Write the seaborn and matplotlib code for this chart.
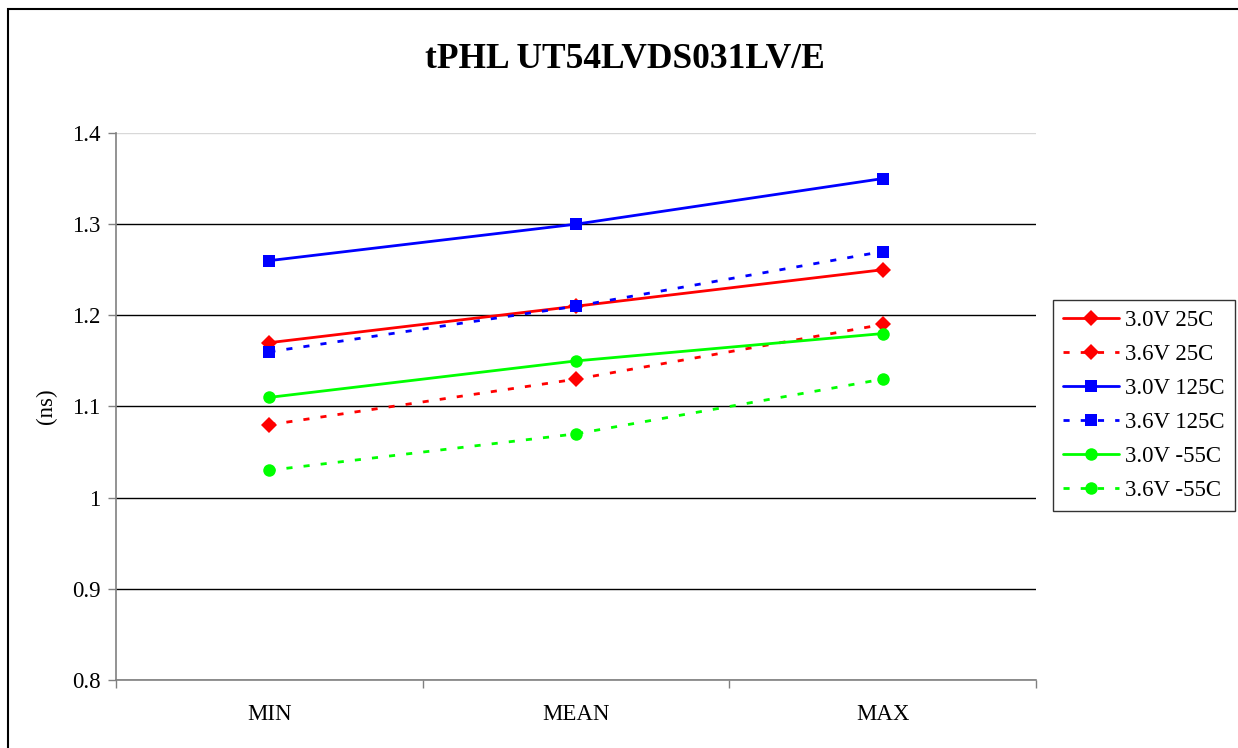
import matplotlib
matplotlib.use("Agg")
import matplotlib.pyplot as plt
import matplotlib.patches as mpatches
from matplotlib.ticker import FixedLocator, NullFormatter
import seaborn as sns
import pandas as pd

categories = ["MIN", "MEAN", "MAX"]
series_names = ["3.0V 25C", "3.6V 25C", "3.0V 125C", "3.6V 125C", "3.0V -55C", "3.6V -55C"]
v30_25 = [1.17, 1.21, 1.25]
v36_25 = [1.08, 1.13, 1.19]
v30_125 = [1.26, 1.30, 1.35]
v36_125 = [1.16, 1.21, 1.27]
v30_m55 = [1.11, 1.15, 1.18]
v36_m55 = [1.03, 1.07, 1.13]
values = [v30_25, v36_25, v30_125, v36_125, v30_m55, v36_m55]
yticks = [0.8, 0.9, 1.0, 1.1, 1.2, 1.3, 1.4]
ytick_labels = ["0.8", "0.9", "1", "1.1", "1.2", "1.3", "1.4"]

colors = ["#ff0000", "#ff0000", "#0000ff", "#0000ff", "#00ff00", "#00ff00"]
markers = ["D", "D", "s", "s", "o", "o"]
msizes = [8, 8, 8.5, 8.5, 9, 9]
dashed = [False, True, False, True, False, True]

rows = []
for name, vals in zip(series_names, values):
    for c, v in zip(categories, vals):
        rows.append({"series": name, "cat": c, "ns": v})
df = pd.DataFrame(rows)

sns.set_theme(style="white")
plt.rcParams["font.family"] = ["Liberation Serif", "DejaVu Serif"]
plt.rcParams["text.color"] = "black"
plt.rcParams["axes.labelcolor"] = "black"
plt.rcParams["xtick.color"] = "black"
plt.rcParams["ytick.color"] = "black"

FS = 16.5

fig = plt.figure(figsize=(12.38, 7.48), dpi=100)
ax = fig.add_axes([116 / 1238, 1 - 680 / 748, 920 / 1238, 547 / 748])

for i, name in enumerate(series_names):
    sub = df[df["series"] == name]
    sns.lineplot(data=sub, x="cat", y="ns", ax=ax, color=colors[i], marker=markers[i],
                 markersize=msizes[i], markeredgewidth=0, linewidth=2.0,
                 label=name, sort=False)
    line = ax.lines[-1]
    if dashed[i]:
        line.set_dashes((2.2, 4.0))
    line.set_dash_capstyle("butt")

ax.set_xlim(-0.5, 2.5)
ax.set_ylim(0.8, 1.4)
ax.set_yticks(yticks)
ax.set_yticklabels(ytick_labels, fontsize=FS, color="black")
ax.set_xticks(range(len(categories)))
ax.set_xticklabels(categories, fontsize=FS, color="black")
ax.tick_params(axis="x", which="major", length=0, pad=17)
ax.xaxis.set_minor_locator(FixedLocator([-0.5, 0.5, 1.5, 2.5]))
ax.xaxis.set_minor_formatter(NullFormatter())
ax.tick_params(axis="x", which="minor", direction="out", length=6, width=1, color="#808080", bottom=True)
ax.tick_params(axis="y", direction="out", length=6, width=1, color="#808080", left=True, pad=5)
ax.set_xlabel("")
ax.set_ylabel("(ns)", fontsize=FS, labelpad=11, color="black")

ax.yaxis.grid(True, color="black", linewidth=1.0)
ax.xaxis.grid(False)
gl = ax.get_ygridlines()
gl[-1].set_color("#d8d8d8")
for s in ["top", "right"]:
    ax.spines[s].set_visible(False)
for s in ["left", "bottom"]:
    ax.spines[s].set_color("#808080")
    ax.spines[s].set_linewidth(1.2)
ax.set_axisbelow(True)

if ax.legend_:
    ax.legend_.remove()
handles, labels = ax.get_legend_handles_labels()
leg = fig.legend(handles, labels, loc="upper left", bbox_to_anchor=(1053 / 1238, 1 - 300 / 748),
                 fontsize=FS, frameon=True, fancybox=False, handlelength=2.45,
                 labelspacing=0.56, borderpad=0.45, handletextpad=0.25, borderaxespad=0)
leg.get_frame().set_edgecolor("black")
leg.get_frame().set_linewidth(1.0)
for t in leg.get_texts():
    t.set_color("black")

fig.text(625 / 1238, 1 - 60 / 748, "tPHL UT54LVDS031LV/E", ha="center", va="center",
         fontsize=25.5, fontweight="bold", color="black")

fig.patches.append(mpatches.Rectangle((8 / 1238, -0.1), 1.2, 1 - 9 / 748 + 0.1,
                                      transform=fig.transFigure, fill=False,
                                      edgecolor="black", linewidth=1.5))

fig.savefig("out.png", dpi=100)
